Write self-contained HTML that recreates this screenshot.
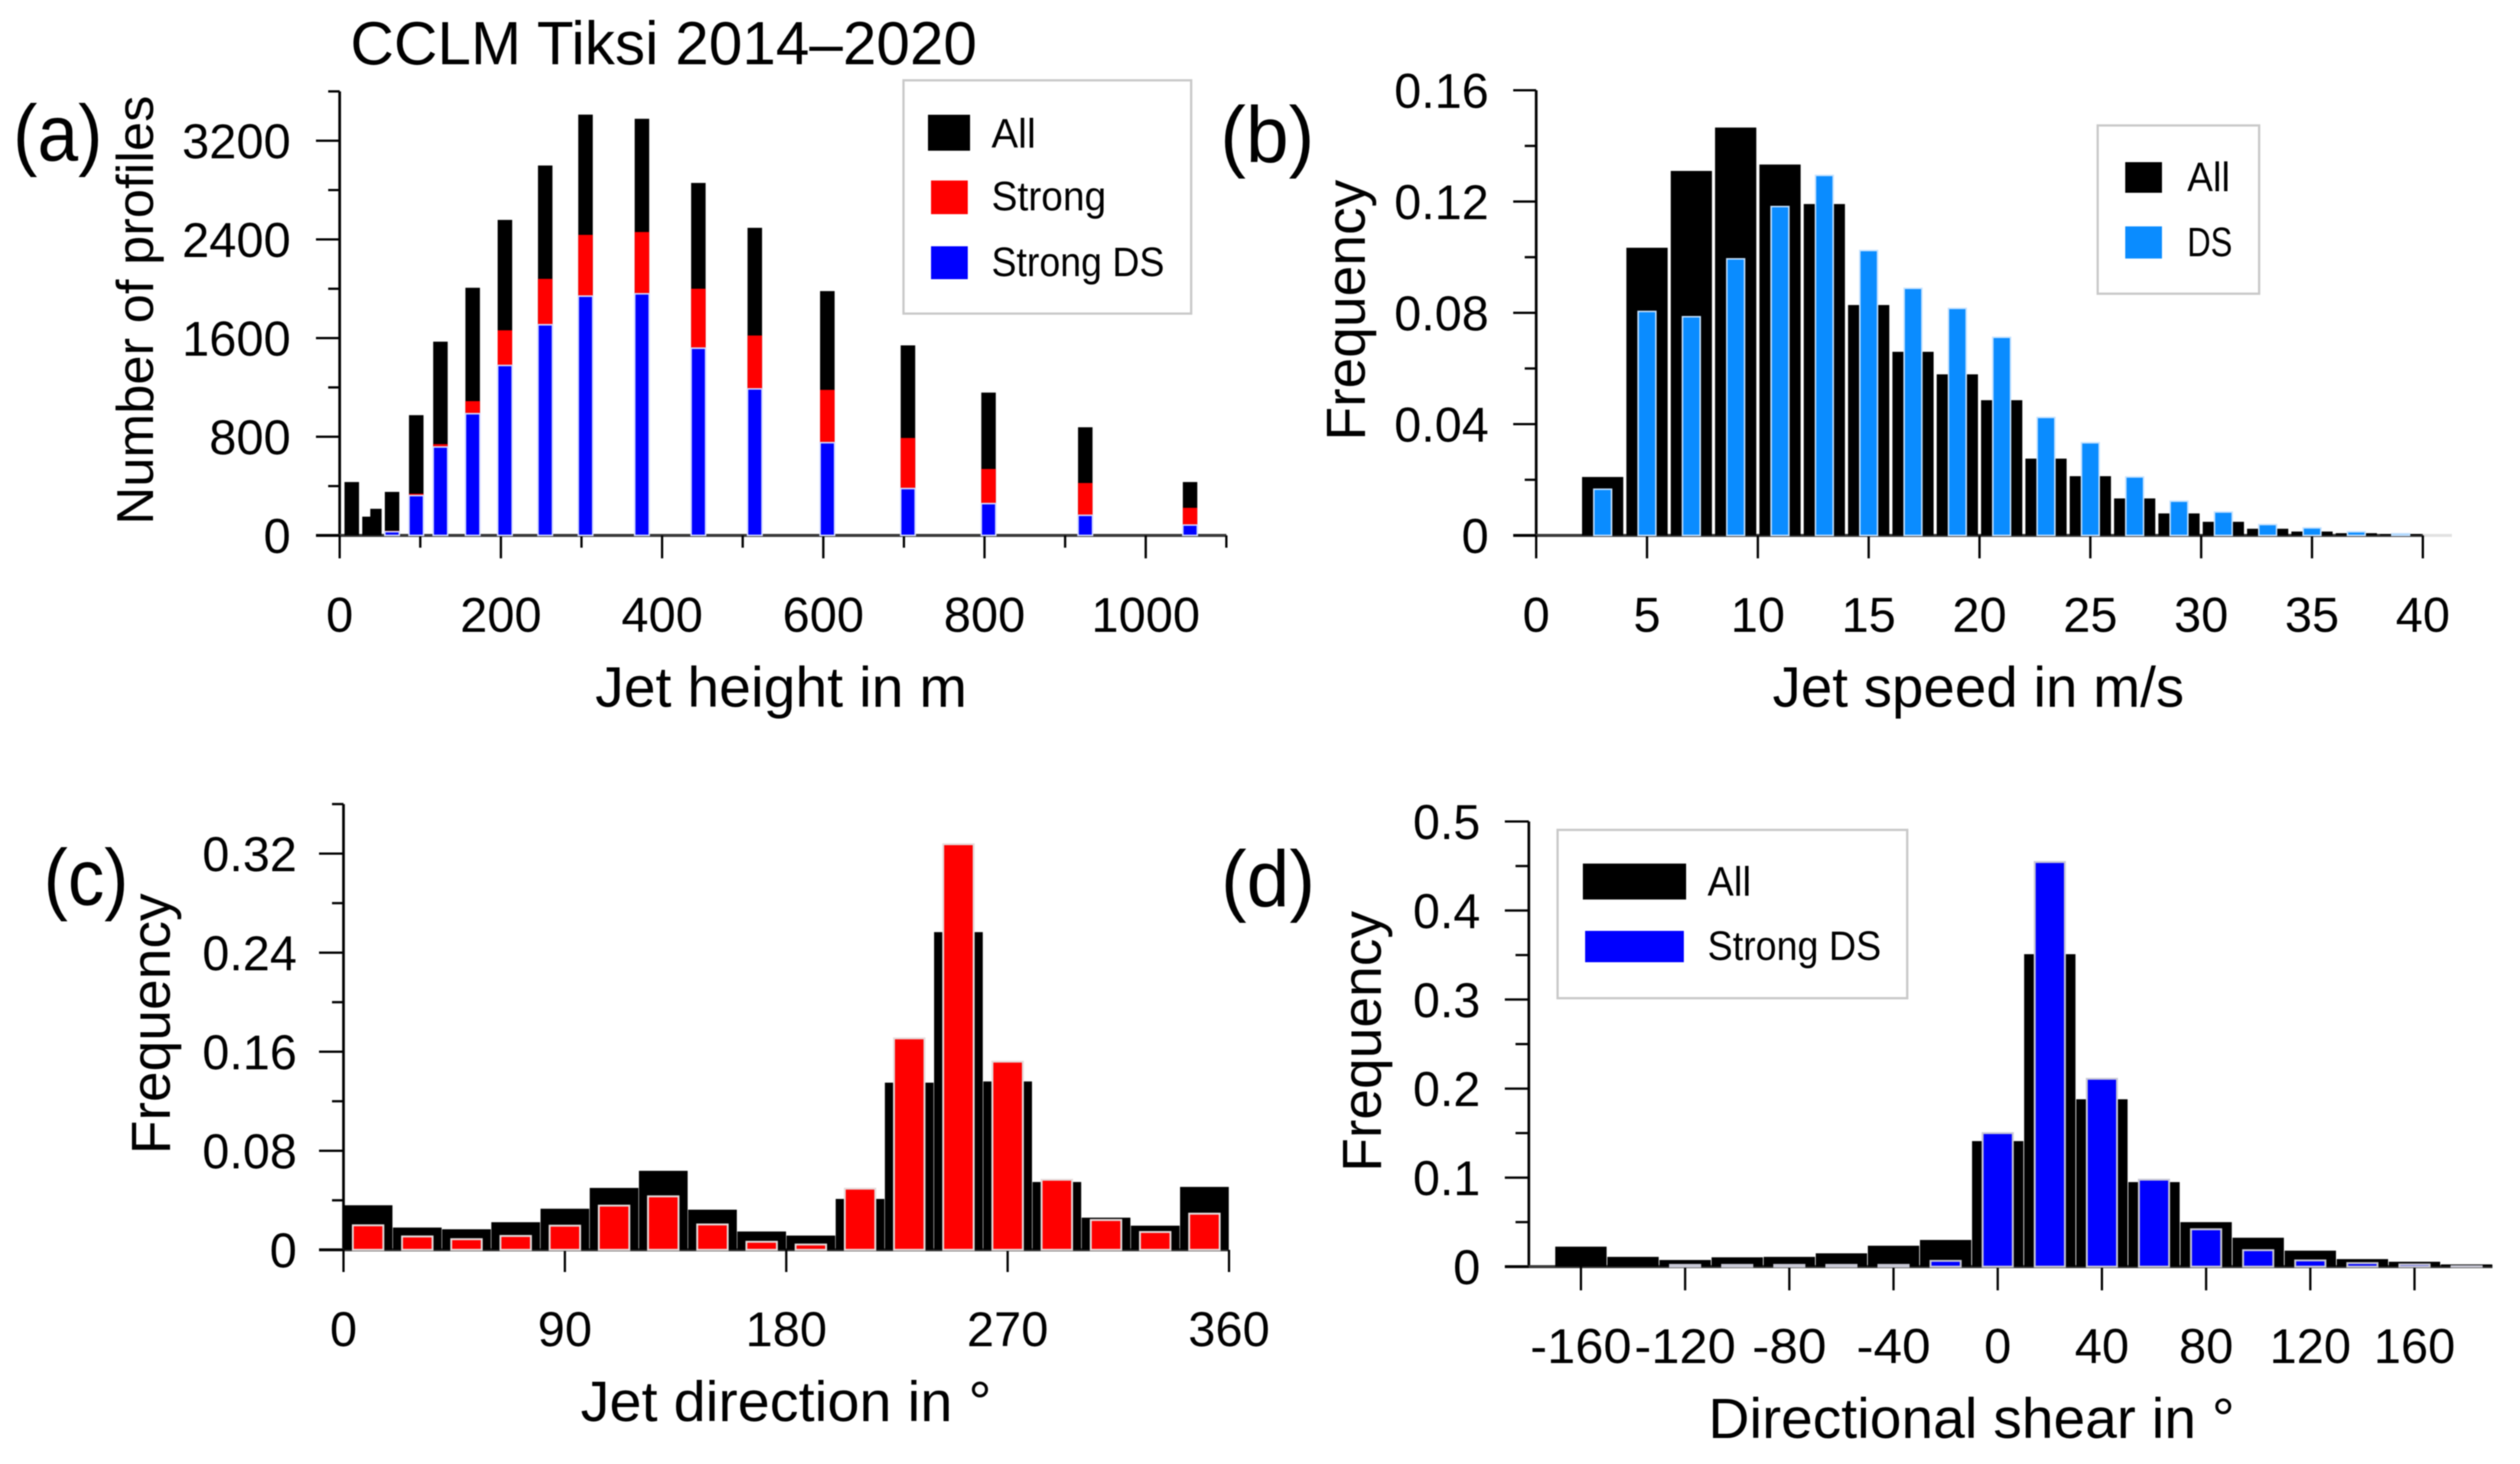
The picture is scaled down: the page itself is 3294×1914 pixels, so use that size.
<!DOCTYPE html>
<html lang="en">
<head>
<meta charset="utf-8">
<title>CCLM Tiksi 2014–2020 jet statistics</title>
<style>
html,body{margin:0;padding:0;background:#fff;}
body{width:3294px;height:1914px;overflow:hidden;}
svg{display:block;filter:blur(0.7px);}
text{font-family:"Liberation Sans",sans-serif;fill:#000;}
</style>
</head>
<body>
<svg id="figure" xmlns="http://www.w3.org/2000/svg" width="3294" height="1914" viewBox="0 0 3294 1914">
  <rect x="0" y="0" width="3294" height="1914" fill="#fff"/>
  <g id="marks"></g>

  <text x="458" y="84" font-size="80" textLength="819" lengthAdjust="spacingAndGlyphs">CCLM Tiksi 2014–2020</text>

  <text x="17" y="210" font-size="104" textLength="117" lengthAdjust="spacingAndGlyphs">(a)</text>
  <text x="1595" y="212" font-size="104" textLength="123" lengthAdjust="spacingAndGlyphs">(b)</text>
  <text x="57" y="1183" font-size="104" textLength="111" lengthAdjust="spacingAndGlyphs">(c)</text>
  <text x="1596" y="1185" font-size="104" textLength="123" lengthAdjust="spacingAndGlyphs">(d)</text>

  <text x="778" y="924" font-size="74" textLength="486" lengthAdjust="spacingAndGlyphs">Jet height in m</text>
  <text x="2317" y="924" font-size="74" textLength="538" lengthAdjust="spacingAndGlyphs">Jet speed in m/s</text>
  <text x="759" y="1858" font-size="74" textLength="537" lengthAdjust="spacingAndGlyphs">Jet direction in °</text>
  <text x="2233" y="1880" font-size="74" textLength="688" lengthAdjust="spacingAndGlyphs">Directional shear in °</text>

  <text transform="translate(200,686) rotate(-90)" font-size="68" textLength="561" lengthAdjust="spacingAndGlyphs">Number of profiles</text>
  <text transform="translate(1784,576) rotate(-90)" font-size="72" textLength="341" lengthAdjust="spacingAndGlyphs">Frequency</text>
  <text transform="translate(222,1509) rotate(-90)" font-size="72" textLength="341" lengthAdjust="spacingAndGlyphs">Frequency</text>
  <text transform="translate(1805,1532) rotate(-90)" font-size="72" textLength="341" lengthAdjust="spacingAndGlyphs">Frequency</text>

  <g>
    <rect x="1181" y="105" width="376" height="305" fill="#fff" stroke="#c9c9c9" stroke-width="3"/>
    <rect x="1213" y="150" width="55" height="47" fill="#000"/>
    <text x="1296" y="193" font-size="54" textLength="58" lengthAdjust="spacingAndGlyphs">All</text>
    <rect x="1217" y="236" width="48" height="44" fill="#ff0000"/>
    <text x="1296" y="275" font-size="54" textLength="150" lengthAdjust="spacingAndGlyphs">Strong</text>
    <rect x="1217" y="322" width="48" height="43" fill="#0000ff"/>
    <text x="1296" y="361" font-size="54" textLength="226" lengthAdjust="spacingAndGlyphs">Strong DS</text>
  </g>

  <g>
    <rect x="2742" y="164" width="211" height="220" fill="#fff" stroke="#c9c9c9" stroke-width="3"/>
    <rect x="2778" y="212" width="48" height="40" fill="#000"/>
    <text x="2859" y="250" font-size="54" textLength="56" lengthAdjust="spacingAndGlyphs">All</text>
    <rect x="2778" y="296" width="48" height="42" fill="#0a8cff"/>
    <text x="2859" y="335" font-size="54" textLength="59" lengthAdjust="spacingAndGlyphs">DS</text>
  </g>

  <g>
    <rect x="2036" y="1085" width="457" height="220" fill="#fff" stroke="#c9c9c9" stroke-width="3"/>
    <rect x="2069" y="1129" width="135" height="47" fill="#000"/>
    <text x="2232" y="1171" font-size="54" textLength="57" lengthAdjust="spacingAndGlyphs">All</text>
    <rect x="2072" y="1217" width="129" height="41" fill="#0000ff"/>
    <text x="2232" y="1255" font-size="54" textLength="227" lengthAdjust="spacingAndGlyphs">Strong DS</text>
  </g>
</svg>

<script>
// Panel (a) data
const aHeights = [15, 35, 45, 65, 95, 125, 165, 205, 255, 305, 375, 445, 515, 605, 705, 805, 925, 1055];
const aAll = [433, 152, 216, 353, 975, 1571, 2008, 2558, 2999, 3412, 3378, 2858, 2494, 1981, 1541, 1158, 877, 433];
const aStrong = [0, 0, 0, 38, 338, 740, 1089, 1663, 2080, 2437, 2460, 2000, 1621, 1180, 790, 539, 425, 224];
const aStrongDs = [0, 0, 0, 30, 323, 717, 987, 1378, 1708, 1940, 1959, 1518, 1188, 752, 380, 258, 163, 84];
const aXTicks = [0, 200, 400, 600, 800, 1000];
const aXMinorTicks = [100, 300, 500, 700, 900, 1100];
const aYTicks = [0, 800, 1600, 2400, 3200];
const aYMinorTicks = [400, 1200, 2000, 2800, 3600];

// Panel (b) data
const bSpeeds = [3, 5, 7, 9, 11, 13, 15, 17, 19, 21, 23, 25, 27, 29, 31, 33, 35, 37, 39];
const bAll = [0.021, 0.1034, 0.131, 0.1466, 0.1333, 0.1191, 0.0828, 0.066, 0.0579, 0.0486, 0.0276, 0.0213, 0.0133, 0.0079, 0.0049, 0.0024, 0.0014, 0.0008, 0.0005];
const bDs = [0.0166, 0.0805, 0.0786, 0.0994, 0.1182, 0.1294, 0.1024, 0.0888, 0.0816, 0.0712, 0.0424, 0.0333, 0.021, 0.0123, 0.0084, 0.0039, 0.0027, 0.0013, 0.0006];
const bXTicks = [0, 5, 10, 15, 20, 25, 30, 35, 40];
const bYTicks = ['0', '0.04', '0.08', '0.12', '0.16'];
const bYMinorTicks = [0.02, 0.06, 0.1, 0.14];

// Panel (c) data
const cDirections = [10, 30, 50, 70, 90, 110, 130, 150, 170, 190, 210, 230, 250, 270, 290, 310, 330, 350];
const cAll = [0.036, 0.018, 0.0166, 0.0223, 0.0332, 0.05, 0.0638, 0.0324, 0.0148, 0.0115, 0.0411, 0.135, 0.2566, 0.136, 0.0548, 0.026, 0.0195, 0.0508];
const cStrong = [0.0198, 0.0108, 0.0086, 0.0112, 0.0195, 0.0357, 0.0432, 0.0205, 0.0065, 0.0043, 0.0494, 0.1708, 0.3276, 0.152, 0.0566, 0.0241, 0.0144, 0.0292];
const cXTicks = [0, 90, 180, 270, 360];
const cYTicks = ['0', '0.08', '0.16', '0.24', '0.32'];
const cYMinorTicks = [0.04, 0.12, 0.2, 0.28, 0.36];

// Panel (d) data
const dShears = [-160, -140, -120, -100, -80, -60, -40, -20, 0, 20, 40, 60, 80, 100, 120, 140, 160, 180];
const dAll = [0.0225, 0.011, 0.0075, 0.0105, 0.011, 0.015, 0.0235, 0.03, 0.141, 0.351, 0.188, 0.095, 0.05, 0.0325, 0.018, 0.0085, 0.0055, 0.0025];
const dStrongDs = [0, 0, 0.002, 0.002, 0.002, 0.002, 0.002, 0.0065, 0.15, 0.4545, 0.211, 0.0977, 0.042, 0.0185, 0.007, 0.004, 0.0025, 0.0005];
const dXTicks = [-160, -120, -80, -40, 0, 40, 80, 120, 160];
const dYTicks = ['0', '0.1', '0.2', '0.3', '0.4', '0.5'];
const dYMinorTicks = [0.05, 0.15, 0.25, 0.35, 0.45];

const NS = 'http://www.w3.org/2000/svg';
const marks = document.getElementById('marks');

function linear(d0, d1, r0, r1) {
  return function (v) { return r0 + (v - d0) * (r1 - r0) / (d1 - d0); };
}

function drawBar(name, sx, sy, center, width, value, fill, stroke, strokeWidth) {
  const el = document.createElementNS(NS, 'rect');
  
  
  const left = sx(center - width / 2);
  const right = sx(center + width / 2);
  const top = sy(value);
  el.setAttribute('x', left);
  el.setAttribute('y', top);
  el.setAttribute('width', right - left);
  el.setAttribute('height', Math.max(0, sy(0) - top));
  el.setAttribute('fill', fill);
  if (stroke) {
    el.setAttribute('stroke', stroke);
    el.setAttribute('stroke-width', strokeWidth);
  }
  marks.appendChild(el);
}

function drawLine(name, x1, y1, x2, y2, color, width) {
  const el = document.createElementNS(NS, 'line');
  
  
  el.setAttribute('x1', x1);
  el.setAttribute('y1', y1);
  el.setAttribute('x2', x2);
  el.setAttribute('y2', y2);
  el.setAttribute('stroke', color);
  el.setAttribute('stroke-width', width);
  marks.appendChild(el);
}

function labelLength(str) {
  let n = 0;
  for (const ch of String(str)) {
    n += ch === '.' ? 17 : ch === '-' ? 26 : 35.5;
  }
  return n;
}

function drawTickLabel(name, x, y, str, anchor) {
  const el = document.createElementNS(NS, 'text');
  
  
  el.setAttribute('x', x);
  el.setAttribute('y', y);
  el.setAttribute('font-size', '64');
  el.setAttribute('text-anchor', anchor);
  el.setAttribute('textLength', labelLength(str));
  el.setAttribute('lengthAdjust', 'spacingAndGlyphs');
  el.textContent = str;
  marks.appendChild(el);
}

function drawAxes(p, sx, sy) {
  const x0 = sx(p.xMin);
  const y0 = sy(0);
  drawLine(p.id + '-y-axis-line', x0, sy(p.yTop), x0, y0, '#000', 3.5);
  drawLine(p.id + '-x-axis-line', p.zeroFrom, y0, p.zeroTo, y0, '#3a3a3a', 4);
  p.xTicks.forEach(function (t) {
    drawLine(p.id + '-x-tick', sx(t), y0, sx(t), p.xTickEnd, '#000', 3);
    drawTickLabel(p.id + '-x-tick-label', sx(t), p.xLabelY, String(t), 'middle');
  });
  (p.xMinor || []).forEach(function (t) {
    drawLine(p.id + '-x-minor-tick', sx(t), y0, sx(t), p.xMinorEnd, '#000', 3);
  });
  p.yTicks.forEach(function (t) {
    const v = Number(t);
    drawLine(p.id + '-y-tick', p.yTickEnd, sy(v), x0, sy(v), '#000', 3);
    drawTickLabel(p.id + '-y-tick-label', p.yLabelX, sy(v) + 23, String(t), 'end');
  });
  p.yMinor.forEach(function (t) {
    drawLine(p.id + '-y-minor-tick', p.yMinorEnd, sy(t), x0, sy(t), '#000', 3);
  });
}

// Panel (a)
const ax = linear(0, 1100, 444, 1603);
const ay = linear(0, 3200, 700, 184);
drawAxes({id: 'a', xMin: 0, yTop: 3600, zeroFrom: 413, zeroTo: 1603, xTicks: aXTicks, xMinor: aXMinorTicks,
  xTickEnd: 730, xMinorEnd: 716, xLabelY: 826, yTicks: aYTicks, yMinor: aYMinorTicks,
  yTickEnd: 413, yMinorEnd: 429, yLabelX: 380}, ax, ay);
aHeights.forEach(function (h, i) {
  const w = h === 35 || h === 45 ? 14 : 18;
  drawBar('a-bar-all', ax, ay, h, w, aAll[i], '#000');
  if (aStrong[i] > 0) drawBar('a-bar-strong', ax, ay, h, 18, aStrong[i], '#ff0000');
  if (aStrongDs[i] > 0) drawBar('a-bar-strong-ds', ax, ay, h, 18, aStrongDs[i], '#0000ff', '#d5dcff', 2);
});

// Panel (b)
const bx = linear(0, 40, 2008, 3167);
const by = linear(0, 0.16, 700, 118);
drawLine('b-x-axis-faint-extension', 3167, 700, 3205, 700, '#e2e2e2', 4);
drawAxes({id: 'b', xMin: 0, yTop: 0.16, zeroFrom: 1978, zeroTo: 3167, xTicks: bXTicks,
  xTickEnd: 730, xLabelY: 826, yTicks: bYTicks, yMinor: bYMinorTicks,
  yTickEnd: 1978, yMinorEnd: 1993, yLabelX: 1946}, bx, by);
bSpeeds.forEach(function (s, i) {
  drawBar('b-bar-all', bx, by, s, 1.86, bAll[i], '#000');
});
bSpeeds.forEach(function (s, i) {
  drawBar('b-bar-ds', bx, by, s, 0.8, bDs[i], '#0a8cff', '#c5e2ff', 2);
});

// Panel (c)
const cx = linear(0, 360, 449, 1606.5);
const cy = linear(0, 0.32, 1634, 1116);
drawAxes({id: 'c', xMin: 0, yTop: 0.36, zeroFrom: 417, zeroTo: 1606, xTicks: cXTicks,
  xTickEnd: 1663, xLabelY: 1760, yTicks: cYTicks, yMinor: cYMinorTicks,
  yTickEnd: 417, yMinorEnd: 434, yLabelX: 388}, cx, cy);
cDirections.forEach(function (d, i) {
  drawBar('c-bar-all', cx, cy, d, 19.8, cAll[i], '#000');
});
cDirections.forEach(function (d, i) {
  drawBar('c-bar-strong', cx, cy, d, 12.4, cStrong[i], '#ff0000', '#e6dcdc', 2.5);
});

// Panel (d)
const dx = linear(0, 160, 2611.3, 3156.1);
const dy = linear(0, 0.5, 1656, 1074);
drawAxes({id: 'd', xMin: -180, yTop: 0.5, zeroFrom: 1967, zeroTo: 3258, xTicks: dXTicks,
  xTickEnd: 1687, xLabelY: 1782, yTicks: dYTicks, yMinor: dYMinorTicks,
  yTickEnd: 1967, yMinorEnd: 1981, yLabelX: 1935}, dx, dy);
dShears.forEach(function (s, i) {
  drawBar('d-bar-all', dx, dy, s, 19.7, dAll[i], '#000');
});
dShears.forEach(function (s, i) {
  if (dStrongDs[i] > 0) drawBar('d-bar-strong-ds', dx, dy, s, 11.6, dStrongDs[i], '#0000ff', '#c9c9d6', 2.5);
});
</script>
</body>
</html>
